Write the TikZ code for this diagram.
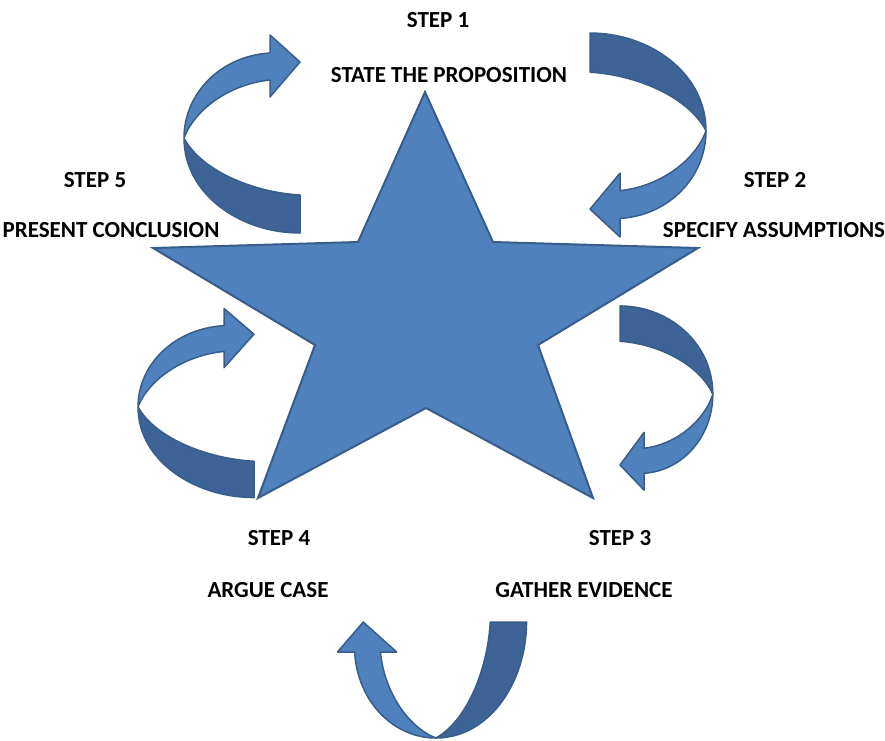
\documentclass[tikz,border=0pt]{standalone}
\usepackage{fontspec}
\setmainfont{Carlito}
\usepackage{tikz}
\definecolor{starblue}{HTML}{4F81BD}
\definecolor{edgeblue}{HTML}{385D8A}
\definecolor{backblue}{HTML}{3E6497}

% one curved arrow, origin at its right side, drawn in pixel units (y down)
\newcommand{\bentarrow}{%
  \filldraw[back] (-116,4) .. controls (-100,35) and (-50,58) .. (0,61)
    -- (0,99) .. controls (-60,99) and (-116,60) .. (-116,4) -- cycle;
  \filldraw[front] (-116,4) .. controls (-116,-40) and (-80,-78) .. (-30,-81)
    -- (-30,-99) -- (0,-72) -- (-30,-37) -- (-30,-54)
    .. controls (-70,-50) and (-105,-25) .. (-116,4) -- cycle;
}

\begin{document}
\begin{tikzpicture}[x=1pt, y=-1pt,
  steptext/.style={font=\bfseries\fontsize{23}{27}\selectfont, inner sep=0pt},
  starshape/.style={fill=starblue, draw=edgeblue, line width=2pt},
  front/.style={fill=starblue, draw=edgeblue, line width=1.5pt, line join=round},
  back/.style={fill=backblue, draw=edgeblue, line width=1.5pt, line join=round}]
\useasboundingbox (0,0) rectangle (885,740);

% star
\filldraw[starshape] (425,92) -- (493,242) -- (698,248) -- (538,345) -- (593,498)
  -- (426,408) -- (258,498) -- (315,345) -- (153,248) -- (358,242) -- cycle;

% arrows
\begin{scope}[shift={(300,134)}]\bentarrow\end{scope}
\begin{scope}[shift={(590,135)}, rotate=180, yscale=1.03]\bentarrow\end{scope}
\begin{scope}[shift={(620,398)}, rotate=180, xscale=0.8, yscale=0.93]\bentarrow\end{scope}
\begin{scope}[shift={(254,403)}, yscale=0.955]\bentarrow\end{scope}
\begin{scope}[shift={(432,622)}, rotate=90, yscale=0.955]\bentarrow\end{scope}

% labels
\node[steptext] (s1) at (438,20) {STEP 1};
\node[steptext] (t1) at (449,75) {STATE THE PROPOSITION};
\node[steptext] (s2) at (775,180) {STEP 2};
\node[steptext] (t2) at (774,230) {SPECIFY ASSUMPTIONS};
\node[steptext] (s3) at (620,538) {STEP 3};
\node[steptext] (t3) at (584,590) {GATHER EVIDENCE};
\node[steptext] (s4) at (279,538) {STEP 4};
\node[steptext] (t4) at (268,590) {ARGUE CASE};
\node[steptext] (s5) at (95,180) {STEP 5};
\node[steptext] (t5) at (111,230) {PRESENT CONCLUSION};
\end{tikzpicture}
\end{document}
